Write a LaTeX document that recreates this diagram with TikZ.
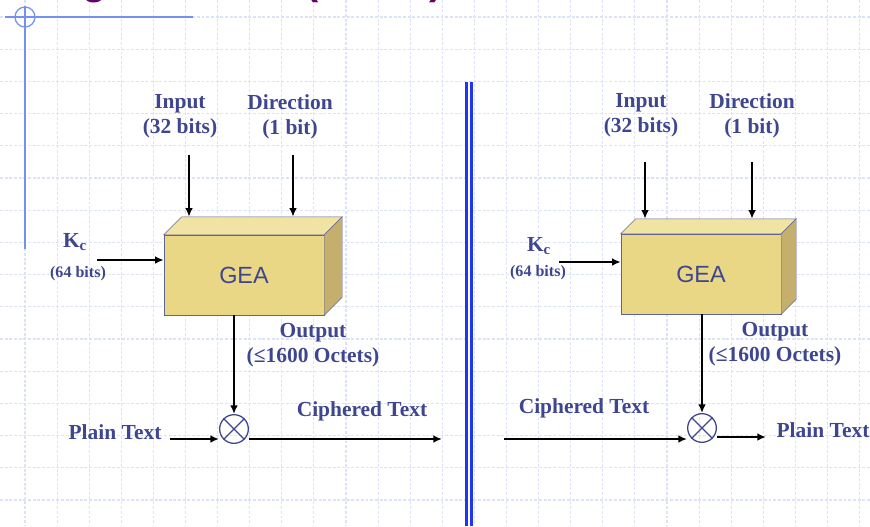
\documentclass[tikz,border=0pt]{standalone}
\usepackage{fontspec}
\setmainfont{Liberation Serif}
\newfontfamily\geafont{Liberation Sans}
\usepackage{tikz}
\usetikzlibrary{arrows.meta}
\usetikzlibrary{calc}
\usetikzlibrary{positioning}
\definecolor{slide-blue}{HTML}{3F4690}
\definecolor{slide-grid}{HTML}{DCE3F9}
\definecolor{slide-line}{HTML}{7391F0}
\definecolor{slide-bar}{HTML}{1F35F0}
\definecolor{slide-purple}{HTML}{660066}
\definecolor{gea-front}{HTML}{EAD785}
\definecolor{gea-top}{HTML}{F1E3A2}
\definecolor{gea-side}{HTML}{C4B06C}
\definecolor{gea-edge}{HTML}{5F6395}
\tikzset{
  label text/.style={text=slide-blue, font=\bfseries\fontsize{18.3}{21}\selectfont, align=center, inner sep=0pt},
  small text/.style={text=slide-blue, font=\bfseries\fontsize{13.7}{15}\selectfont, inner sep=0pt},
  gea box/.style={draw=gea-edge, fill=gea-front, minimum width=4.8cm, minimum height=2.4cm, inner sep=0pt, text=slide-blue, font=\geafont\fontsize{20}{24}\selectfont},
  xor circle/.style={circle, draw=slide-blue, line width=1.1pt, minimum size=0.86cm, inner sep=0pt},
  flow/.style={-{Latex[length=2.6mm, width=2.3mm]}, line width=1.5pt},
}

\begin{document}
\begin{tikzpicture}[x=0.03cm, y=-0.03cm]

    \useasboundingbox (0,0) rectangle (870,526);

    % slide background
    \foreach \i in {0,...,26} {
        \draw[slide-grid, line width=1pt, dash pattern=on 2.5pt off 1.5pt] ({25+32.1*\i},0) -- ({25+32.1*\i},526);
    }
    \foreach \i in {0,...,15} {
        \draw[slide-grid, line width=1pt, dash pattern=on 2.5pt off 1.5pt] (0,{17+32.2*\i}) -- (870,{17+32.2*\i});
    }
    \draw[slide-line, line width=1.3pt] (5,17) -- (193,17);
    \draw[slide-line, line width=1.3pt] (25,6) -- (25,249);
    \draw[slide-line, line width=1.1pt] (25,17) circle (10);

    % title (cut off)
    \node[anchor=base, text=slide-purple, font=\geafont\bfseries\fontsize{34}{40}\selectfont, inner sep=0pt] (titleg) at (95,-6) {g};
    \node[anchor=base, text=slide-purple, font=\geafont\bfseries\fontsize{34}{40}\selectfont, inner sep=0pt] (titlel) at (312,-6) {(};
    \node[anchor=base, text=slide-purple, font=\geafont\bfseries\fontsize{34}{40}\selectfont, inner sep=0pt] (titler) at (436,-6) {)};

    % divider
    \draw[slide-bar, line width=2.2pt, double=white, double distance=1.6pt] (469,82) -- (469,526);

    % boxes
    \node[gea box] (geaL) at (244,275) {GEA};
    \node[gea box] (geaR) at (701,274) {GEA};
    \foreach \b/\d in {geaL/18, geaR/15} {
        \filldraw[fill=gea-top, draw=gea-edge] (\b.north west) -- ++(\d,-\d) -- ([shift={(\d,-\d)}]\b.north east) -- (\b.north east) -- cycle;
        \filldraw[fill=gea-side, draw=gea-edge] (\b.north east) -- ++(\d,-\d) -- ([shift={(\d,-\d)}]\b.south east) -- (\b.south east) -- cycle;
    }
    \coordinate (geaLtop) at ([yshift=18*0.03cm]geaL.north);
    \coordinate (geaRtop) at ([yshift=15*0.03cm]geaR.north);

    % xor
    \node[xor circle] (xorL) at (234,429) {};
    \draw[slide-blue, line width=1.1pt] (xorL.north west) -- (xorL.south east) (xorL.north east) -- (xorL.south west);
    \node[xor circle] (xorR) at (702,428) {};
    \draw[slide-blue, line width=1.1pt] (xorR.north west) -- (xorR.south east) (xorR.north east) -- (xorR.south west);

    % labels
    \node[label text] (inputL) at (180,116) {Input\\(32 bits)};
    \node[label text] (dirL) at (290,117) {Direction\\(1 bit)};
    \node[label text] (kcL) at (75,242) {K\textsubscript{c}};
    \node[small text] (kcbitsL) at (78,274) {(64 bits)};
    \node[label text] (outL) at (313,345) {Output\\(≤1600 Octets)};
    \node[label text] (plainL) at (115,432) {Plain Text};
    \node[label text] (cipherL) at (362,411) {Ciphered Text};

    \node[label text] (inputR) at (641,115) {Input\\(32 bits)};
    \node[label text] (dirR) at (752,116) {Direction\\(1 bit)};
    \node[label text] (kcR) at (539,246) {K\textsubscript{c}};
    \node[small text] (kcbitsR) at (538,273) {(64 bits)};
    \node[label text] (outR) at (775,344) {Output\\(≤1600 Octets)};
    \node[label text] (cipherR) at (584,408) {Ciphered Text};
    \node[label text] (plainR) at (823,430) {Plain Text};

    % arrows, left
    \coordinate (inL) at (189,155);
    \coordinate (dL) at (293,155);
    \coordinate (kL) at (97,260);
    \coordinate (pL) at (170,439);
    \coordinate (cL) at (442,439);
    \draw[flow] (inL) -- (inL |- geaLtop);
    \draw[flow] (dL) -- (dL |- geaLtop);
    \draw[flow] (kL) -- (kL -| geaL.west);
    \draw[flow] (geaL.south -| xorL) -- (xorL.north);
    \draw[flow] (pL) -- (pL -| xorL.west);
    \draw[flow] (pL -| xorL.east) -- (cL);

    % arrows, right
    \coordinate (inR) at (645,162);
    \coordinate (dR) at (752,162);
    \coordinate (kR) at (559,262);
    \coordinate (cR) at (504,439);
    \coordinate (pR) at (766,437);
    \draw[flow] (inR) -- (inR |- geaRtop);
    \draw[flow] (dR) -- (dR |- geaRtop);
    \draw[flow] (kR) -- (kR -| geaR.west);
    \draw[flow] (geaR.south -| xorR) -- (xorR.north);
    \draw[flow] (cR) -- (cR -| xorR.west);
    \draw[flow] (pR -| xorR.east) -- (pR);

\end{tikzpicture}
\end{document}
